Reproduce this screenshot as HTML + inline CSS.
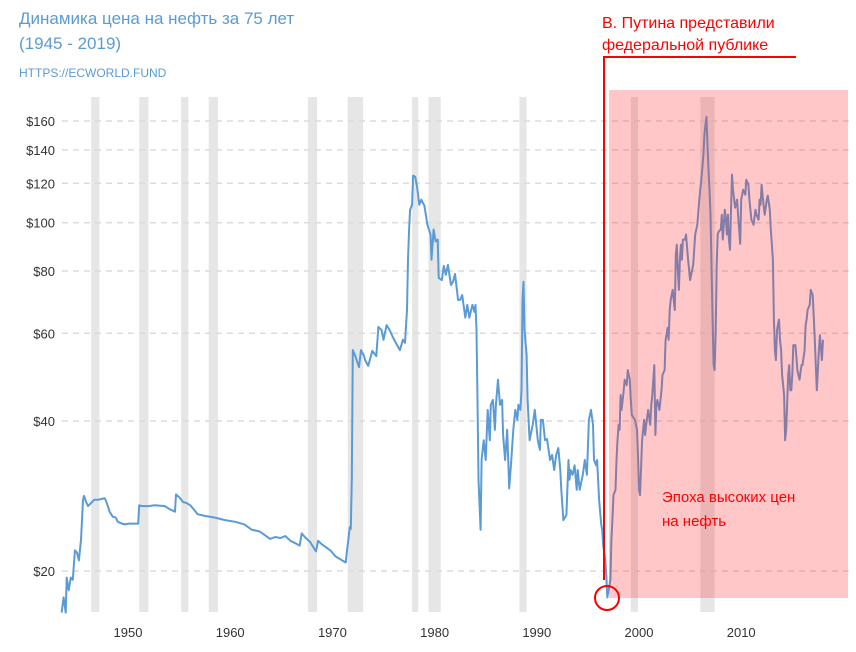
<!DOCTYPE html>
<html><head><meta charset="utf-8">
<style>
body{margin:0;background:#fff;}
svg{display:block;font-family:"Liberation Sans","DejaVu Sans",sans-serif;}
</style></head>
<body>
<svg id="chart" width="856" height="652" viewBox="0 0 856 652" xmlns="http://www.w3.org/2000/svg">
<text x="19" y="24" font-size="17" fill="#5b9bd5">Динамика цена на нефть за 75 лет</text>
<text x="19" y="49" font-size="17" fill="#5b9bd5">(1945 - 2019)</text>
<text x="19" y="77" font-size="12" fill="#5b9bd5">HTTPS://ECWORLD.FUND</text>
<g id="bands"></g>
<g id="grid"></g>
<g id="ylabels"></g>
<g id="xlabels"></g>
<path id="line" fill="none" stroke="#5b9bd5" stroke-width="2" stroke-linejoin="round"></path>
<rect x="609" y="90" width="239" height="508" fill="rgba(255,40,40,0.26)"></rect>
<line x1="604" y1="57" x2="604" y2="580" stroke="#ff0000" stroke-width="2"></line>
<line x1="603" y1="57" x2="796" y2="57" stroke="#ff0000" stroke-width="2"></line>
<circle cx="607" cy="598" r="12" fill="none" stroke="#ff0000" stroke-width="2"></circle>
<text x="602" y="28" font-size="16" fill="#ff0000">В. Путина представили</text>
<text x="602" y="50" font-size="16" fill="#ff0000">федеральной публике</text>
<text x="662" y="502" font-size="15" fill="#ff0000">Эпоха высоких цен</text>
<text x="662" y="526" font-size="15" fill="#ff0000">на нефть</text>
</svg>
<script>
const yTicks=[20,40,60,80,100,120,140,160];
const xTicks=[1950,1960,1970,1980,1990,2000,2010];
const bandStart=[1946.4,1951.1,1955.2,1957.9,1967.6,1971.5,1977.8,1979.4,1988.3,1999.2,2006.0];
const bandEnd=[1947.2,1952.0,1955.9,1958.8,1968.5,1973.0,1978.4,1980.6,1989.0,1999.9,2007.4];
const years=[1943.5,1943.7,1943.9,1944.0,1944.2,1944.4,1944.6,1944.8,1945.0,1945.2,1945.4,1945.5,1945.6,1945.7,1945.9,1946.1,1946.4,1946.7,1947.1,1947.4,1947.7,1947.8,1948.0,1948.2,1948.5,1948.8,1949.0,1949.4,1949.7,1950.1,1951.0,1951.1,1951.4,1952.0,1952.6,1953.6,1954.1,1954.6,1954.7,1955.1,1955.4,1955.7,1956.1,1956.5,1956.8,1957.5,1958.5,1959.5,1960.5,1961.4,1962.1,1962.9,1963.4,1963.9,1964.4,1964.9,1965.4,1965.9,1966.8,1967.0,1967.4,1967.8,1968.4,1968.6,1969.0,1969.8,1970.3,1971.3,1971.4,1971.7,1971.8,1971.9,1972.0,1972.2,1972.6,1972.8,1973.1,1973.2,1973.5,1973.9,1974.3,1974.5,1974.8,1975.0,1975.3,1975.6,1975.9,1976.2,1976.6,1976.9,1977.1,1977.3,1977.4,1977.5,1977.6,1977.8,1977.9,1978.1,1978.3,1978.5,1978.7,1979.0,1979.3,1979.6,1979.7,1979.9,1980.1,1980.3,1980.4,1980.7,1980.9,1981.1,1981.3,1981.6,1981.8,1982.0,1982.3,1982.5,1982.7,1983.0,1983.2,1983.4,1983.7,1983.9,1984.0,1984.1,1984.2,1984.3,1984.5,1984.6,1984.8,1985.0,1985.2,1985.4,1985.5,1985.7,1985.9,1986.0,1986.2,1986.4,1986.6,1986.7,1986.9,1987.1,1987.3,1987.5,1987.7,1987.9,1988.1,1988.2,1988.4,1988.5,1988.6,1988.7,1988.8,1989.0,1989.1,1989.3,1989.6,1989.8,1989.9,1990.1,1990.3,1990.4,1990.6,1990.8,1991.0,1991.3,1991.5,1991.7,1991.9,1992.1,1992.3,1992.4,1992.6,1992.9,1993.1,1993.2,1993.3,1993.5,1993.7,1993.9,1994.0,1994.2,1994.5,1994.7,1994.9,1995.1,1995.3,1995.5,1995.6,1995.8,1995.9,1996.1,1996.3,1996.4,1996.5,1996.7,1996.8,1996.9,1997.2,1997.3,1997.4,1997.5,1997.7,1997.8,1997.9,1998.0,1998.1,1998.2,1998.3,1998.5,1998.6,1998.8,1998.9,1999.1,1999.2,1999.3,1999.6,1999.8,1999.9,2000.0,2000.1,2000.2,2000.3,2000.5,2000.6,2000.7,2000.9,2001.1,2001.2,2001.3,2001.5,2001.6,2001.7,2001.8,2002.0,2002.1,2002.2,2002.3,2002.5,2002.6,2002.8,2002.9,2003.0,2003.1,2003.3,2003.5,2003.6,2003.7,2003.8,2003.9,2004.0,2004.1,2004.2,2004.3,2004.5,2004.6,2004.8,2005.0,2005.1,2005.2,2005.3,2005.5,2005.7,2005.9,2006.0,2006.1,2006.3,2006.4,2006.5,2006.6,2006.7,2006.8,2006.9,2007.0,2007.1,2007.2,2007.3,2007.4,2007.5,2007.6,2007.7,2007.8,2008.0,2008.1,2008.2,2008.4,2008.5,2008.6,2008.7,2008.8,2008.9,2009.0,2009.1,2009.2,2009.4,2009.6,2009.7,2009.9,2010.0,2010.2,2010.4,2010.5,2010.7,2010.8,2011.0,2011.2,2011.4,2011.5,2011.7,2011.8,2011.9,2012.0,2012.1,2012.3,2012.5,2012.6,2012.8,2012.9,2013.1,2013.2,2013.3,2013.4,2013.5,2013.7,2013.8,2013.9,2014.0,2014.2,2014.3,2014.4,2014.6,2014.7,2014.8,2014.9,2015.0,2015.1,2015.3,2015.5,2015.7,2015.9,2016.0,2016.2,2016.3,2016.4,2016.5,2016.7,2016.8,2017.0,2017.2,2017.4,2017.6,2017.7,2017.9,2018.0];
const prices=[16.5,17.7,16.5,19.4,18.3,19.4,19.2,22.0,21.8,21.0,23.1,25.3,27.8,28.3,27.5,27.0,27.4,27.8,27.8,27.9,28.0,27.8,27.1,26.3,25.7,25.6,25.1,24.9,24.8,24.9,24.9,27.1,27.0,27.0,27.1,27.0,26.6,26.3,28.5,28.0,27.5,27.4,27.1,26.5,26.0,25.8,25.6,25.3,25.1,24.8,24.2,24.0,23.6,23.2,23.4,23.3,23.5,23.0,22.5,23.8,23.3,22.9,21.9,23.0,22.6,22.0,21.4,20.8,21.7,24.5,24.3,30.5,55.5,54.3,51.3,55.5,54.0,53.0,51.6,55.3,54.0,61.8,60.9,58.2,62.3,60.9,59.0,57.4,55.5,58.2,57.4,66.8,84.3,96.9,106.2,108.7,124.3,123.7,117.6,108.7,111.2,108.2,99.1,94.7,84.3,96.9,91.7,92.5,77.5,76.7,81.9,78.6,82.3,75.0,76.1,78.9,70.0,70.0,71.6,64.5,68.4,64.5,68.4,66.2,68.4,60.9,44.1,30.5,24.2,33.4,36.6,33.4,42.1,36.6,43.1,44.1,38.4,43.1,48.4,43.1,44.1,37.5,33.4,38.4,29.3,33.4,38.4,42.1,40.2,43.1,42.1,46.1,70.0,76.1,60.9,54.3,44.1,36.6,39.3,42.1,40.2,36.6,35.0,40.2,40.2,36.6,36.8,33.4,34.2,31.9,34.2,35.3,31.9,29.1,25.3,25.9,33.4,30.5,31.9,31.2,32.6,29.1,31.9,29.1,31.2,33.4,31.2,40.2,42.1,39.3,33.4,32.6,33.4,27.8,24.8,24.2,22.5,21.0,19.6,17.7,19.2,23.1,25.3,28.4,29.1,33.4,36.6,39.3,38.4,45.1,42.1,46.1,48.4,47.2,50.6,48.4,44.1,41.1,40.2,38.4,34.2,29.1,28.4,31.9,36.6,40.2,37.5,39.3,42.1,39.3,43.1,45.1,51.8,37.5,43.1,44.1,42.1,44.1,46.1,49.5,50.6,58.2,61.5,58.2,66.8,70.0,73.3,66.8,86.3,90.3,80.4,73.3,84.3,90.3,84.3,92.5,92.5,94.7,84.3,76.7,78.6,80.4,82.3,94.7,99.1,111.2,116.5,122.0,136.7,150.0,157.1,163.0,143.2,127.7,116.5,103.7,80.4,63.9,51.8,50.6,60.9,82.3,94.7,96.0,96.9,103.7,92.5,106.2,101.4,94.7,103.7,92.5,88.2,106.2,124.9,116.5,107.2,111.2,103.7,90.7,111.2,116.5,113.8,122.0,119.2,111.2,101.4,99.1,106.2,103.7,101.4,111.2,108.7,119.2,112.7,103.7,111.2,113.3,106.2,96.9,84.3,63.9,55.5,53.0,60.9,63.9,58.2,55.5,49.5,45.1,36.6,38.4,49.5,51.8,46.1,46.1,49.5,56.8,56.8,50.6,48.4,51.8,51.8,55.5,62.3,63.9,66.8,68.4,73.3,71.6,58.2,46.1,55.5,59.5,53.0,58.2];

const NS='http://www.w3.org/2000/svg';
function xS(yr){return 128+(yr-1950)*10.22;}
function yS(v){return 571-150*Math.log2(v/20);}
const PLOT_TOP=97,PLOT_BOT=612;

const bandsG=document.getElementById('bands');
for(let i=0;i<bandStart.length;i++){
  const r=document.createElementNS(NS,'rect');
  
  
  r.setAttribute('x',xS(bandStart[i]));r.setAttribute('y',PLOT_TOP);
  r.setAttribute('width',xS(bandEnd[i])-xS(bandStart[i]));r.setAttribute('height',PLOT_BOT-PLOT_TOP);
  r.setAttribute('fill','#e6e6e6');
  bandsG.appendChild(r);
}
const gridG=document.getElementById('grid'),ylG=document.getElementById('ylabels');
yTicks.forEach(v=>{
  const y=yS(v);
  const l=document.createElementNS(NS,'line');
  
  
  l.setAttribute('x1',62);l.setAttribute('x2',850);l.setAttribute('y1',y);l.setAttribute('y2',y);
  l.setAttribute('stroke','#dcdcdc');l.setAttribute('stroke-width','1.5');l.setAttribute('stroke-dasharray','6,5');
  gridG.appendChild(l);
  const t=document.createElementNS(NS,'text');
  
  
  t.setAttribute('x',55);t.setAttribute('y',y+5);t.setAttribute('text-anchor','end');
  t.setAttribute('font-size','13');t.setAttribute('fill','#333');
  t.textContent='$'+v;
  ylG.appendChild(t);
});
const xlG=document.getElementById('xlabels');
xTicks.forEach(yr=>{
  const t=document.createElementNS(NS,'text');
  
  
  t.setAttribute('x',xS(yr));t.setAttribute('y',637);t.setAttribute('text-anchor','middle');
  t.setAttribute('font-size','13');t.setAttribute('fill','#333');
  t.textContent=yr;
  xlG.appendChild(t);
});
let d='';
for(let i=0;i<years.length;i++){d+=(i?'L':'M')+xS(years[i]).toFixed(1)+','+yS(prices[i]).toFixed(1);}
document.getElementById('line').setAttribute('d',d);
</script>
</body></html>
